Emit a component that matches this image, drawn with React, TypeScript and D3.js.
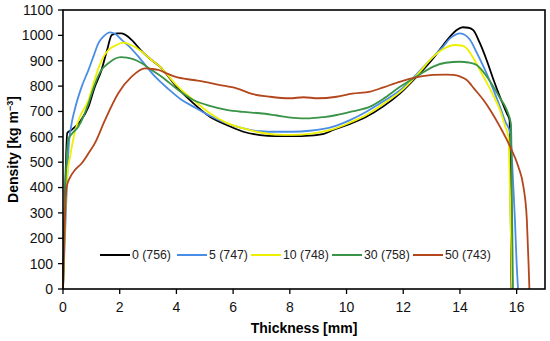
import * as d3 from "d3";

type Pt = [number, number];

const xTicks = [0, 2, 4, 6, 8, 10, 12, 14, 16];
const yTicks = [0, 100, 200, 300, 400, 500, 600, 700, 800, 900, 1000, 1100];

// thickness [mm], density [kg m-3]
const s0: Pt[] = [
  [0, 0], [0.08, 400], [0.15, 615], [0.3, 627], [0.6, 660], [0.9, 719], [1.1, 790], [1.36, 864],
  [1.55, 940], [1.72, 1001], [1.9, 1008], [2.07, 1008], [2.25, 998], [2.42, 982], [2.8, 935],
  [3.1, 905], [3.42, 877], [4.0, 798], [4.6, 732], [5.18, 679], [5.77, 647], [6.36, 620],
  [6.95, 607], [7.5, 603], [8.1, 603], [8.7, 605], [9.2, 612], [9.53, 627], [10.1, 650],
  [10.7, 679], [11.3, 720], [11.9, 772], [12.5, 840], [13.06, 910], [13.4, 960], [13.65, 995],
  [13.9, 1022], [14.1, 1032], [14.3, 1030], [14.47, 1021], [14.7, 970], [14.94, 903], [15.2, 820],
  [15.41, 758], [15.65, 693], [15.75, 666], [15.79, 300], [15.82, 0],
];
const s5: Pt[] = [
  [0, 0], [0.1, 300], [0.2, 560], [0.3, 650], [0.42, 710], [0.66, 798], [0.9, 864], [1.1, 925],
  [1.25, 969], [1.45, 998], [1.66, 1012], [1.85, 1005], [2.07, 982], [2.35, 955], [2.66, 916],
  [3.25, 837], [3.7, 790], [4.19, 745], [4.6, 719], [5.18, 683], [5.77, 653], [6.36, 633],
  [6.95, 622], [7.5, 620], [8.1, 620], [8.7, 624], [9.53, 640], [10.1, 665], [10.7, 699],
  [11.3, 740], [11.9, 785], [12.5, 850], [13.06, 916], [13.4, 955], [13.65, 988], [13.85, 1003],
  [14.0, 1008], [14.2, 1000], [14.36, 982], [14.6, 930], [14.94, 850], [15.2, 780], [15.41, 719],
  [15.6, 660], [15.77, 615], [15.85, 480], [15.94, 272], [16.0, 100], [16.05, 0],
];
const s10: Pt[] = [
  [0, 0], [0.08, 300], [0.15, 450], [0.25, 522], [0.42, 620], [0.6, 680], [0.9, 745], [1.1, 820],
  [1.25, 870], [1.45, 920], [1.6, 942], [1.85, 960], [2.13, 971], [2.4, 962], [2.78, 936],
  [3.1, 905], [3.42, 877], [4.0, 804], [4.6, 745], [5.18, 693], [5.77, 655], [6.36, 633],
  [6.95, 617], [7.5, 609], [8.1, 608], [8.7, 612], [9.53, 630], [10.1, 655], [10.7, 686],
  [11.3, 730], [11.9, 778], [12.5, 845], [13.06, 916], [13.4, 945], [13.83, 962], [14.05, 960],
  [14.24, 949], [14.5, 905], [14.83, 837], [15.1, 780], [15.41, 706], [15.6, 640], [15.71, 600],
  [15.78, 300], [15.84, 0],
];
const s30: Pt[] = [
  [0, 0], [0.07, 350], [0.13, 522], [0.19, 590], [0.3, 610], [0.54, 640], [0.9, 732], [1.1, 800],
  [1.36, 864], [1.6, 890], [1.83, 908], [2.05, 914], [2.25, 912], [2.5, 905], [2.78, 890],
  [3.1, 865], [3.48, 837], [4.0, 790], [4.6, 745], [5.18, 722], [5.77, 706], [6.36, 698],
  [6.95, 693], [7.5, 685], [8.12, 675], [8.7, 673], [9.2, 678], [9.65, 686], [10.2, 700],
  [10.83, 719], [11.3, 750], [11.9, 798], [12.5, 840], [13.06, 877], [13.5, 892], [14.0, 896],
  [14.3, 893], [14.59, 883], [14.9, 845], [15.18, 798], [15.4, 755], [15.65, 706], [15.8, 650],
  [15.84, 300], [15.87, 0],
];
const s50: Pt[] = [
  [0, 0], [0.06, 250], [0.13, 403], [0.25, 440], [0.42, 469], [0.66, 496], [0.9, 535], [1.13, 576],
  [1.48, 666], [1.95, 772], [2.42, 837], [2.89, 870], [3.1, 868], [3.36, 864], [3.7, 848],
  [3.95, 837], [4.6, 824], [4.95, 818], [5.5, 805], [6.12, 791], [6.7, 768], [7.3, 758],
  [8.0, 752], [8.48, 756], [9.0, 752], [9.65, 758], [10.2, 770], [10.83, 778], [11.3, 795],
  [11.9, 818], [12.5, 835], [13.06, 844], [13.5, 845], [13.77, 844], [14.0, 838], [14.24, 824],
  [14.5, 790], [14.83, 745], [15.1, 700], [15.41, 640], [15.77, 561], [16.06, 482], [16.24, 403],
  [16.36, 272], [16.42, 100], [16.45, 0],
];

const names = ["0 (756)", "5 (747)", "10 (748)", "30 (758)", "50 (743)"];
const colors = ["#000000", "#4a8de6", "#eef000", "#3a9447", "#b4461c"];
const series = [s0, s5, s10, s30, s50];
const legendX = [100, 177, 251, 332, 413];

const W = 550;
const H = 341;
const m = { left: 63, right: 5, top: 10, bottom: 52 };
const font = "'Liberation Sans', Arial, sans-serif";

export default function App() {
  const x = d3.scaleLinear().domain([0, 17]).range([m.left, W - m.right]);
  const y = d3.scaleLinear().domain([0, 1100]).range([H - m.bottom, m.top]);
  const line = d3
    .line<Pt>()
    .x((d) => x(d[0]))
    .y((d) => y(d[1]))
    .curve(d3.curveMonotoneX);

  const x0 = x(0);
  const x1 = x(17);
  const y0 = y(0);
  const y1 = y(1100);

  return (
    <svg width={W} height={H} style={{ position: "absolute", left: 0, top: 0 }} fontFamily={font}>
      <rect width={W} height={H} fill="#fff" />
      {series.map((s, i) => (
        <path key={i} d={line(s) ?? ""} fill="none" stroke={colors[i]} strokeWidth={1.8} strokeLinejoin="round" />
      ))}
      <rect x={x0} y={y1} width={x1 - x0} height={y0 - y1} fill="none" stroke="#000" strokeWidth={1.6} />
      {yTicks.map((t) => (
        <g key={t}>
          <line x1={x0 - 5} x2={x0} y1={y(t)} y2={y(t)} stroke="#000" strokeWidth={1.3} />
          <text x={x0 - 10} y={y(t)} dy="0.35em" textAnchor="end" fontSize={14} fill="#111">
            {t}
          </text>
        </g>
      ))}
      {xTicks.map((t) => (
        <g key={t}>
          <line x1={x(t)} x2={x(t)} y1={y0} y2={y0 + 5} stroke="#000" strokeWidth={1.3} />
          <text x={x(t)} y={y0 + 23} textAnchor="middle" fontSize={14} fill="#111">
            {t}
          </text>
        </g>
      ))}
      <text x={(x0 + x1) / 2} y={H - 8} textAnchor="middle" fontSize={14} fontWeight="bold">
        Thickness [mm]
      </text>
      <text transform={`translate(18,${(y0 + y1) / 2}) rotate(-90)`} textAnchor="middle" fontSize={14} fontWeight="bold">
        Density [kg m
        <tspan dy={-5} fontSize={9}>−3</tspan>
        <tspan dy={5}>]</tspan>
      </text>
      {names.map((n, i) => (
        <g key={n}>
          <line x1={legendX[i]} x2={legendX[i] + 30} y1={255} y2={255} stroke={colors[i]} strokeWidth={2} />
          <text x={legendX[i] + 32} y={255} dy="0.35em" fontSize={12.3} fill="#222">
            {n}
          </text>
        </g>
      ))}
    </svg>
  );
}
